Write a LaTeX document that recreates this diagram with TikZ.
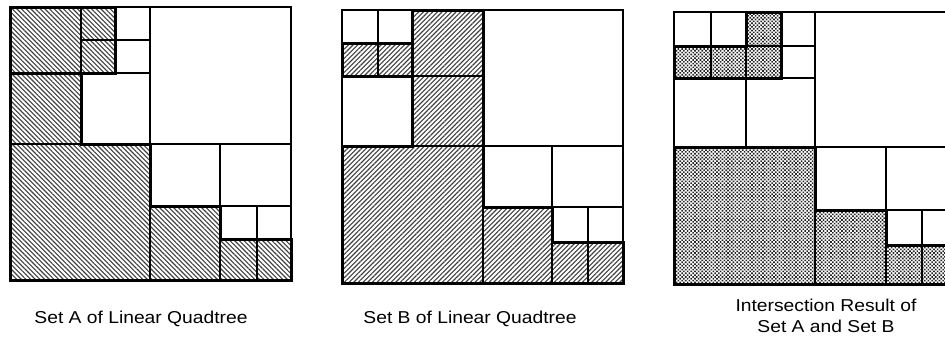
\documentclass[tikz,border=0pt]{standalone}
\usepackage{fontspec}
\newfontfamily\capfont{Liberation Sans}[FakeStretch=1.12]
\usepackage{tikz}
\usetikzlibrary{patterns,patterns.meta}

\begin{document}
\begin{tikzpicture}[
  x=1pt, y=-1pt,
  grid/.style={draw, line width=1.2pt},
  outline/.style={draw, line width=3pt, line join=miter},
  setA/.style={pattern={Lines[angle=-45, distance=3.3pt, line width=1.1pt]},
               pattern color=black!75},
  setB/.style={pattern={Lines[angle=45, distance=3.3pt, line width=1.1pt]},
               pattern color=black!75},
  setAB/.style={pattern={Dots[angle=45, distance=2.6pt, radius=1.15pt]},
                pattern color=black!85},
  caption/.style={font=\capfont\fontsize{17.2}{21}\selectfont, align=center,
                  inner sep=0pt, anchor=base},
]
\clip (0,0) rectangle (945,356);

% Set A
\path[setA] (10,7) rectangle (115,73);
\path[setA] (10,73) -- (81,73) -- (81,144) -- (150,144) -- (150,206) -- (220,206)
            -- (220,239) -- (291,239) -- (291,280) -- (10,280) -- cycle;
\draw[grid] (10,7) rectangle (291,280);
\draw[grid] (150,7) -- (150,280) (10,144) -- (291,144);
\draw[grid] (81,7) -- (81,144) (10,73) -- (150,73);
\draw[grid] (115,7) -- (115,73) (81,40) -- (150,40);
\draw[grid] (220,144) -- (220,280) (150,206) -- (291,206);
\draw[grid] (257,206) -- (257,280) (220,239) -- (291,239);
\draw[outline] (10,7) rectangle (115,73);
\draw[outline] (10,73) -- (81,73) -- (81,144) -- (150,144) -- (150,206) -- (220,206)
               -- (220,239) -- (291,239) -- (291,280) -- (10,280) -- cycle;

% Set B
\path[setB] (342,43) rectangle (412,76);
\path[setB] (412,10) -- (483,10) -- (483,207) -- (552,207) -- (552,242) -- (623,242)
            -- (623,283) -- (342,283) -- (342,146) -- (412,146) -- cycle;
\draw[grid] (342,10) rectangle (623,283);
\draw[grid] (483,10) -- (483,283) (342,146) -- (623,146);
\draw[grid] (412,10) -- (412,146) (342,76) -- (483,76);
\draw[grid] (378,10) -- (378,76) (342,43) -- (412,43);
\draw[grid] (552,146) -- (552,283) (483,207) -- (623,207);
\draw[grid] (588,207) -- (588,283) (552,242) -- (623,242);
\draw[outline] (342,43) rectangle (412,76);
\draw[outline] (412,10) -- (483,10) -- (483,207) -- (552,207) -- (552,242) -- (623,242)
               -- (623,283) -- (342,283) -- (342,146) -- (412,146) -- cycle;

% intersection
\path[setAB] (674,46) -- (746,46) -- (746,12) -- (781,12) -- (781,78) -- (674,78) -- cycle;
\path[setAB] (674,147) -- (815,147) -- (815,210) -- (886,210) -- (886,245) -- (955,245)
             -- (955,284) -- (674,284) -- cycle;
\draw[grid] (674,12) rectangle (955,284);
\draw[grid] (815,12) -- (815,284) (674,147) -- (955,147);
\draw[grid] (746,12) -- (746,147) (674,78) -- (815,78);
\draw[grid] (711,12) -- (711,78) (674,46) -- (746,46);
\draw[grid] (781,12) -- (781,78) (746,46) -- (815,46);
\draw[grid] (886,147) -- (886,284) (815,210) -- (955,210);
\draw[grid] (922,210) -- (922,284) (886,245) -- (955,245);
\draw[outline] (674,46) -- (746,46) -- (746,12) -- (781,12) -- (781,78) -- (674,78) -- cycle;
\draw[outline] (674,147) -- (815,147) -- (815,210) -- (886,210) -- (886,245) -- (955,245)
               -- (955,284) -- (674,284) -- cycle;

\node[caption] (capA)  at (141,323) {Set A of Linear Quadtree};
\node[caption] (capB)  at (470,323) {Set B of Linear Quadtree};
\node[caption] (capAB) at (826,332) {Intersection Result of\\Set A and Set B};
\end{tikzpicture}
\end{document}
